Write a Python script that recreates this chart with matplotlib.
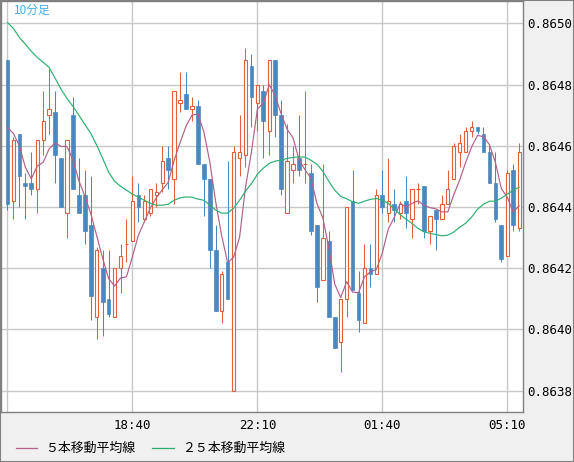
import numpy as np
import pandas as pd
import matplotlib
matplotlib.use('Agg')
import matplotlib.pyplot as plt
from matplotlib.lines import Line2D
from matplotlib.patches import Rectangle
from matplotlib.ticker import FormatStrFormatter

#--10 minute candles, 15:10 .. 05:30
opens = [0.86488, 0.86442, 0.86464, 0.86448, 0.86448, 0.86446, 0.86462, 0.86470, 0.86471, 0.86456,
         0.86438, 0.86470, 0.86444, 0.86444, 0.86434, 0.86404, 0.86420, 0.86410, 0.86404, 0.86420,
         0.86428, 0.86429, 0.86444, 0.86436, 0.86438, 0.86444, 0.86448, 0.86456, 0.86449, 0.86474,
         0.86477, 0.86472, 0.86473, 0.86454, 0.86449, 0.86426, 0.86406, 0.86422, 0.86380, 0.86456,
         0.86457, 0.86486, 0.86474, 0.86478, 0.86465, 0.86488, 0.86470, 0.86438, 0.86452, 0.86456,
         0.86454, 0.86451, 0.86434, 0.86416, 0.86429, 0.86404, 0.86396, 0.86410, 0.86442, 0.86412,
         0.86402, 0.86420, 0.86418, 0.86444, 0.86438, 0.86441, 0.86438, 0.86442, 0.86436, 0.86446,
         0.86447, 0.86432, 0.86439, 0.86436, 0.86441, 0.86449, 0.86458, 0.86458, 0.86465, 0.86466,
         0.86464, 0.86458, 0.86448, 0.86434, 0.86424, 0.86452, 0.86433]
highs = [0.86488, 0.86463, 0.86464, 0.86451, 0.86458, 0.86462, 0.86478, 0.86485, 0.86478, 0.86456,
         0.86462, 0.86476, 0.86456, 0.86452, 0.86450, 0.86427, 0.86426, 0.86426, 0.86420, 0.86428,
         0.86436, 0.86450, 0.86448, 0.86444, 0.86446, 0.86448, 0.86460, 0.86460, 0.86478, 0.86484,
         0.86484, 0.86476, 0.86475, 0.86454, 0.86449, 0.86434, 0.86419, 0.86455, 0.86460, 0.86470,
         0.86492, 0.86490, 0.86480, 0.86480, 0.86488, 0.86488, 0.86475, 0.86467, 0.86460, 0.86470,
         0.86478, 0.86454, 0.86434, 0.86454, 0.86432, 0.86404, 0.86410, 0.86440, 0.86452, 0.86419,
         0.86428, 0.86428, 0.86446, 0.86452, 0.86456, 0.86446, 0.86442, 0.86450, 0.86446, 0.86448,
         0.86447, 0.86437, 0.86439, 0.86444, 0.86452, 0.86461, 0.86464, 0.86466, 0.86468, 0.86466,
         0.86466, 0.86460, 0.86458, 0.86434, 0.86452, 0.86454, 0.86461]
lows = [0.86439, 0.86436, 0.86440, 0.86436, 0.86444, 0.86438, 0.86457, 0.86464, 0.86448, 0.86440,
        0.86430, 0.86446, 0.86438, 0.86428, 0.86403, 0.86397, 0.86398, 0.86404, 0.86404, 0.86412,
        0.86422, 0.86429, 0.86435, 0.86435, 0.86437, 0.86440, 0.86445, 0.86446, 0.86441, 0.86471,
        0.86472, 0.86468, 0.86454, 0.86437, 0.86420, 0.86406, 0.86402, 0.86410, 0.86380, 0.86450,
        0.86453, 0.86466, 0.86465, 0.86456, 0.86457, 0.86463, 0.86444, 0.86438, 0.86448, 0.86450,
        0.86448, 0.86431, 0.86409, 0.86416, 0.86404, 0.86394, 0.86386, 0.86404, 0.86413, 0.86399,
        0.86402, 0.86414, 0.86418, 0.86438, 0.86435, 0.86435, 0.86436, 0.86433, 0.86430, 0.86441,
        0.86430, 0.86428, 0.86426, 0.86436, 0.86441, 0.86449, 0.86453, 0.86458, 0.86463, 0.86464,
        0.86458, 0.86448, 0.86435, 0.86422, 0.86424, 0.86432, 0.86432]
closes = [0.86441, 0.86462, 0.86450, 0.86447, 0.86446, 0.86462, 0.86468, 0.86472, 0.86457, 0.86440,
          0.86462, 0.86446, 0.86438, 0.86432, 0.86411, 0.86426, 0.86409, 0.86405, 0.86420, 0.86424,
          0.86428, 0.86442, 0.86440, 0.86442, 0.86446, 0.86445, 0.86455, 0.86452, 0.86478, 0.86475,
          0.86472, 0.86473, 0.86454, 0.86449, 0.86426, 0.86406, 0.86418, 0.86410, 0.86458, 0.86458,
          0.86488, 0.86476, 0.86480, 0.86468, 0.86488, 0.86470, 0.86446, 0.86455, 0.86454, 0.86452,
          0.86454, 0.86432, 0.86414, 0.86430, 0.86404, 0.86394, 0.86410, 0.86440, 0.86413, 0.86403,
          0.86420, 0.86418, 0.86444, 0.86440, 0.86442, 0.86439, 0.86441, 0.86438, 0.86446, 0.86446,
          0.86432, 0.86437, 0.86436, 0.86441, 0.86446, 0.86460, 0.86461, 0.86465, 0.86466, 0.86465,
          0.86458, 0.86448, 0.86436, 0.86423, 0.86451, 0.86434, 0.86458]

#--first 4 values of the 5 bar average (needs bars before the window)
ma5_head = [0.86466, 0.86464, 0.86460, 0.86453]

#--25 bar average
ma25 = [0.865003, 0.864984, 0.864954, 0.864932, 0.864909, 0.864889, 0.864873, 0.864856, 0.864821, 0.864785,
        0.864755, 0.864729, 0.864700, 0.864670, 0.864641, 0.864602, 0.864559, 0.864514, 0.864484, 0.864468,
        0.864455, 0.864442, 0.864432, 0.864422, 0.864412, 0.864406, 0.864406, 0.864409, 0.864422, 0.864430,
        0.864433, 0.864432, 0.864426, 0.864422, 0.864406, 0.864390, 0.864380, 0.864380, 0.864396, 0.864422,
        0.864452, 0.864476, 0.864507, 0.864527, 0.864543, 0.864550, 0.864553, 0.864559, 0.864562, 0.864564,
        0.864563, 0.864553, 0.864540, 0.864517, 0.864484, 0.864455, 0.864435, 0.864427, 0.864417, 0.864412,
        0.864419, 0.864425, 0.864428, 0.864422, 0.864412, 0.864394, 0.864375, 0.864360, 0.864346, 0.864330,
        0.864319, 0.864314, 0.864310, 0.864306, 0.864308, 0.864318, 0.864334, 0.864347, 0.864367, 0.864393,
        0.864409, 0.864419, 0.864419, 0.864429, 0.864442, 0.864455, 0.864465]

tick_pos = [0, 21, 42, 63, 84]
tick_labels = ['', '18:40', '22:10', '01:40', '05:10']
yticks = [0.8638, 0.8640, 0.8642, 0.8644, 0.8646, 0.8648, 0.8650]

RED = '#e0603a'
BLUE = '#4a88c0'
MAUVE = '#b4608a'
GREEN = '#2bb070'

o = np.array(opens); h = np.array(highs); l = np.array(lows); c = np.array(closes)
x = np.arange(len(c))
up = c >= o

ma5 = pd.Series(c).rolling(5).mean().values
ma5[:4] = ma5_head

W, H = 574, 462
fig = plt.figure(figsize=(W/100, H/100), dpi=100, facecolor='#f0f0f0')
ax = fig.add_axes([1/W, 50/H, 522/W, 411.5/H])
ax.set_facecolor('white')

#--candles
ax.vlines(x[~up], l[~up], h[~up], colors=BLUE, lw=0.75, zorder=2)
ax.vlines(x[up], l[up], h[up], colors=RED, lw=0.75, zorder=2)
ax.bar(x[~up], (o-c)[~up], bottom=c[~up], width=0.62, color=BLUE, edgecolor=BLUE, lw=0.5, zorder=3)
ax.bar(x[up], (c-o)[up], bottom=o[up], width=0.56, facecolor='white', edgecolor=RED, lw=0.8, zorder=3)

#--moving averages
l5, = ax.plot(x, ma5, color=MAUVE, lw=0.85, zorder=4)
l25, = ax.plot(x, ma25, color=GREEN, lw=0.85, zorder=4)

ax.set_xlim(-1.09, 86.64)
ax.set_ylim(0.86373, 0.865075)
ax.yaxis.tick_right()
ax.set_yticks(yticks)
ax.yaxis.set_major_formatter(FormatStrFormatter('%.4f'))
ax.set_xticks(tick_pos)
ax.set_xticklabels(tick_labels)
ax.tick_params(axis='both', length=0, labelsize=9, labelcolor='black')
ax.tick_params(axis='y', pad=3)
ax.tick_params(axis='x', pad=5)
for lab in ax.get_xticklabels() + ax.get_yticklabels():
    lab.set_family('DejaVu Sans Mono')
ax.grid(color='#c8c8c8', lw=1)
ax.set_axisbelow(True)
for s in ax.spines.values():
    s.set_color('#808080')
    s.set_linewidth(1)

fig.text(14/W, 1-10/H, '10分足', color='#40b0e8', fontsize=8.5,
         family=['Noto Sans CJK JP', 'DejaVu Sans'], va='center', ha='left')

#--legend drawn by hand under the axis
ly = 1 - 448/H
fig.add_artist(Line2D([16/W, 37/W], [ly, ly], color=MAUVE, lw=0.9, transform=fig.transFigure))
fig.text(45/W, ly, '５本移動平均線', fontsize=9.3, family=['Noto Sans CJK JP', 'DejaVu Sans'],
         va='center', ha='left')
fig.add_artist(Line2D([152/W, 174/W], [ly, ly], color=GREEN, lw=0.9, transform=fig.transFigure))
fig.text(182/W, ly, '２５本移動平均線', fontsize=9.3, family=['Noto Sans CJK JP', 'DejaVu Sans'],
         va='center', ha='left')

fig.add_artist(Rectangle((0, 0), 1, 1, transform=fig.transFigure, fill=False,
                         edgecolor='#808080', lw=1.5))

fig.savefig('out.png', dpi=100, facecolor=fig.get_facecolor())
